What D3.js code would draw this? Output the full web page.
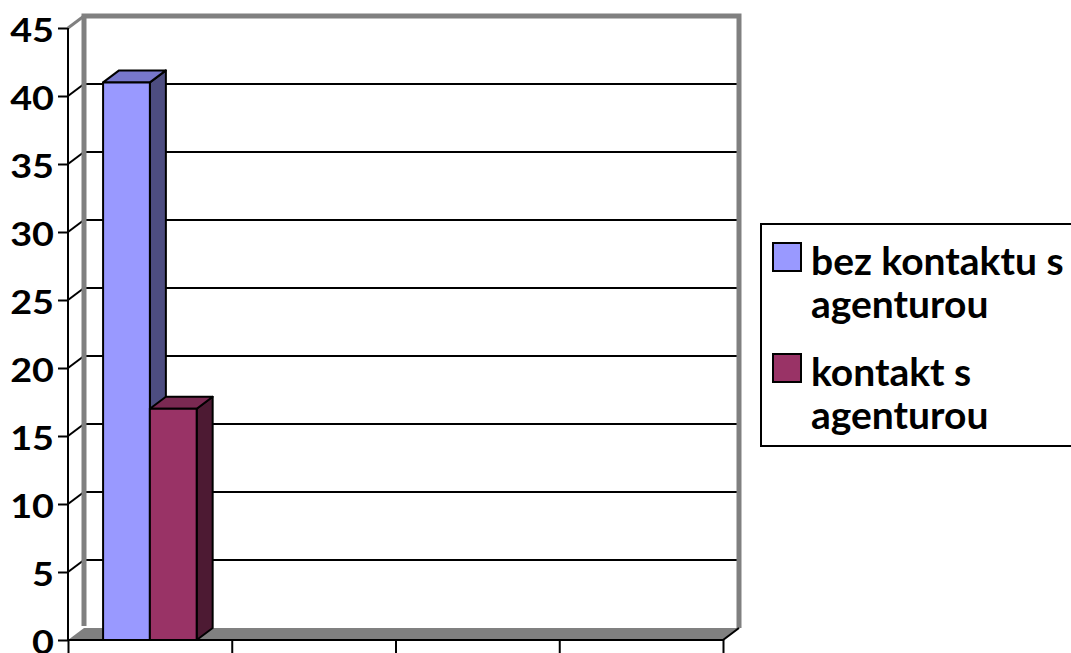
<!DOCTYPE html>
<html>
<head>
<meta charset="utf-8">
<script src="https://cdn.jsdelivr.net/npm/d3@7"></script>
<style>
  body { margin: 0; background: #fff; }
  text { font-family: Lato, "Open Sans", sans-serif; font-weight: 700; fill: #000; }
</style>
</head>
<body>
<div id="container"></div>
<script>
/* DATA */
const categories = ["k1", "k2", "k3", "k4"];
const seriesNames = ["bez kontaktu s agenturou", "kontakt s agenturou"];
const bezKontaktu = [41];
const kontakt = [17];
const yTicks = [0, 5, 10, 15, 20, 25, 30, 35, 40, 45];
const legendLines = [["bez kontaktu s", "agenturou"], ["kontakt s", "agenturou"]];

/* CONSTANTS */
const width = 1071, height = 653;
const plotLeft = 68, plotRight = 723, plotBottom = 640, plotTop = 28;
const dx = 16, dy = -12;
const colors = [
  { front: "#9999ff", top: "#7777cc", side: "#4d4d80" },
  { front: "#993366", top: "#7a2952", side: "#4d1a33" }
];

const svg = d3.select("#container")
  .append("svg")
  .attr("width", width)
  .attr("height", height);

/* SCALES */
const yScale = d3.scaleLinear().domain([0, 45]).range([plotBottom, plotTop]);
const x0 = d3.scaleBand().domain(categories).range([plotLeft, plotRight]);
const bw = x0.bandwidth();
const x1 = d3.scaleBand().domain(seriesNames)
  .range([bw * 0.75 / 3.5, bw * 2.75 / 3.5]);

/* WALLS */
const gray = "#808080";
// floor
svg.append("polygon")
  .attr("points", [[plotLeft, plotBottom], [plotRight, plotBottom], [plotRight + dx, plotBottom + dy], [plotLeft + dx, plotBottom + dy]].join(" "))
  .attr("fill", gray);

// gridlines on back wall and side wall
yTicks.filter(d => d > 0 && d < 45).forEach(v => {
  const y = yScale(v);
  svg.append("line")
    .attr("x1", plotLeft + dx).attr("x2", plotRight + dx)
    .attr("y1", y + dy).attr("y2", y + dy)
    .attr("stroke", "#000").attr("stroke-width", 2);
  svg.append("line")
    .attr("x1", plotLeft).attr("x2", plotLeft + dx)
    .attr("y1", y).attr("y2", y + dy)
    .attr("stroke", "#000").attr("stroke-width", 2);
});

// back wall outline
svg.append("path")
  .attr("d", `M${plotLeft + dx},${plotBottom + dy - 2} V${plotTop + dy} H${plotRight + dx} V${plotBottom + dy}`)
  .attr("fill", "none").attr("stroke", gray).attr("stroke-width", 5)
  .attr("stroke-linejoin", "miter");
svg.append("line")
  .attr("x1", plotLeft).attr("y1", plotTop)
  .attr("x2", plotLeft + dx).attr("y2", plotTop + dy)
  .attr("stroke", gray).attr("stroke-width", 3);

/* BARS */
const barW = x1.bandwidth();
const drawBar = (x, v, c) => {
  const yv = yScale(v);
  const g = svg.append("g").attr("stroke", "#000").attr("stroke-width", 2).attr("stroke-linejoin", "round");
  g.append("polygon")
    .attr("points", [[x + barW, yv], [x + barW + dx, yv + dy], [x + barW + dx, plotBottom + dy], [x + barW, plotBottom]].join(" "))
    .attr("fill", c.side);
  g.append("polygon")
    .attr("points", [[x, yv], [x + dx, yv + dy], [x + barW + dx, yv + dy], [x + barW, yv]].join(" "))
    .attr("fill", c.top);
  g.append("rect")
    .attr("x", x).attr("y", yv)
    .attr("width", barW).attr("height", plotBottom - yv)
    .attr("fill", c.front);
};
[bezKontaktu, kontakt].forEach((vals, i) => {
  vals.forEach((v, j) => {
    drawBar(x0(categories[j]) + x1(seriesNames[i]), v, colors[i]);
  });
});

/* AXES */
const yAxis = d3.axisLeft(yScale).tickValues(yTicks).tickSize(10).tickPadding(4);
const gy = svg.append("g").attr("transform", `translate(${plotLeft},0)`).call(yAxis);
gy.select(".domain").attr("stroke", "#000").attr("stroke-width", 2).attr("d", `M0,${plotBottom}V${plotTop}`);
gy.selectAll(".tick line").attr("stroke", "#000").attr("stroke-width", 2);
gy.selectAll(".tick text")
  .attr("x", 0)
  .attr("dy", "0.42em")
  .attr("transform", "translate(-14,0) scale(1.18,1)")
  .attr("fill", "#000")
  .style("font-size", "32px")
  .style("font-family", "Lato, sans-serif").style("font-weight", 700);

const xEdges = d3.scaleLinear().domain([0, categories.length]).range([plotLeft, plotRight]);
const xAxis = d3.axisBottom(xEdges).ticks(categories.length).tickFormat("").tickSize(13);
const gx = svg.append("g").attr("transform", `translate(0,${plotBottom})`).call(xAxis);
gx.select(".domain").attr("stroke", "#000").attr("stroke-width", 2)
  .attr("d", `M${plotLeft},0H${plotRight}L${plotRight + dx},${dy}`);
gx.selectAll(".tick line").attr("stroke", "#000").attr("stroke-width", 2);

/* LEGEND */
const lg = svg.append("g");
lg.append("rect")
  .attr("x", 761).attr("y", 224).attr("width", 320).attr("height", 222)
  .attr("fill", "#fff").attr("stroke", "#000").attr("stroke-width", 2);
legendLines.forEach((lines, i) => {
  const y0 = 243 + i * 111;
  lg.append("rect")
    .attr("x", 773).attr("y", y0).attr("width", 28).attr("height", 28)
    .attr("fill", colors[i].front).attr("stroke", "#000").attr("stroke-width", 2);
  lines.forEach((t, k) => {
    lg.append("text")
      .attr("x", 811).attr("y", y0 + 32 + k * 43)
      .style("font-size", "39px")
      .text(t);
  });
});
</script>
</body>
</html>
